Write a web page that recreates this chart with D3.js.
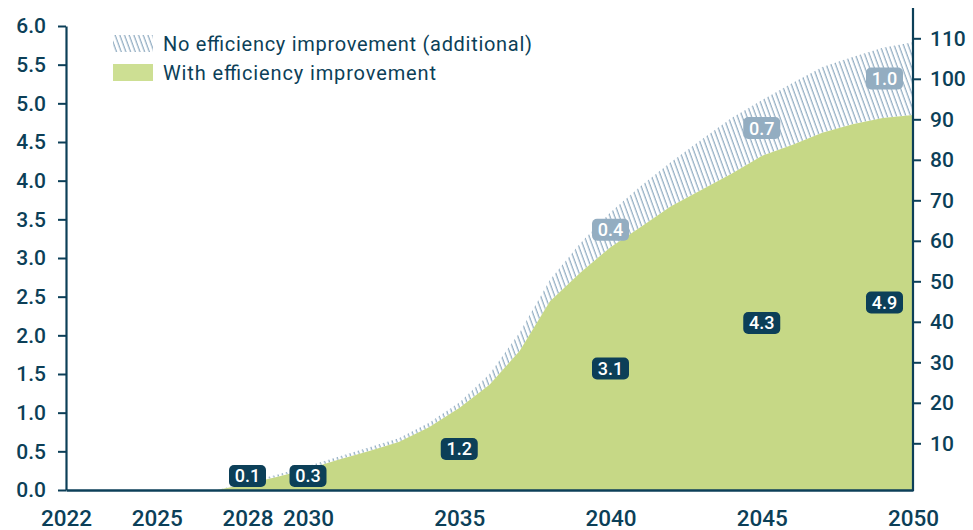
<!DOCTYPE html>
<html>
<head>
<meta charset="utf-8">
<script src="https://cdn.jsdelivr.net/npm/d3@7/dist/d3.min.js"></script>
<style>
  html, body { margin: 0; padding: 0; background: #ffffff; }
  svg { display: block; font-family: Roboto, "Noto Sans", sans-serif; }
</style>
</head>
<body>
<svg id="chart" width="973" height="530"></svg>
<script>
// ---------- data ----------
const years = [2022, 2023, 2024, 2025, 2026, 2027, 2028, 2029, 2030, 2031, 2032, 2033, 2034, 2035,
               2036, 2037, 2038, 2039, 2040, 2041, 2042, 2043, 2044, 2045, 2046, 2047, 2048, 2049, 2050];
const withEfficiency = [0, 0, 0, 0, 0, 0, 0.08, 0.17, 0.27, 0.39, 0.50, 0.62, 0.81, 1.06,
                        1.36, 1.80, 2.44, 2.81, 3.14, 3.40, 3.67, 3.88, 4.09, 4.32, 4.46, 4.62, 4.73, 4.81, 4.85];
const additional = [0, 0, 0, 0, 0, 0, 0.02, 0.03, 0.04, 0.04, 0.05, 0.05, 0.06, 0.07,
                    0.14, 0.24, 0.28, 0.38, 0.45, 0.53, 0.57, 0.65, 0.72, 0.72, 0.80, 0.85, 0.87, 0.91, 0.94];
const xTickYears = [2022, 2025, 2028, 2030, 2035, 2040, 2045, 2050];
const leftTicks = [0, 0.5, 1, 1.5, 2, 2.5, 3, 3.5, 4, 4.5, 5, 5.5, 6];
const rightTicks = [10, 20, 30, 40, 50, 60, 70, 80, 90, 100, 110];
const withLabelYears = [2028, 2030, 2035, 2040, 2045, 2050];
const withLabelTexts = ["0.1", "0.3", "1.2", "3.1", "4.3", "4.9"];
const addLabelYears = [2040, 2045, 2050];
const addLabelTexts = ["0.4", "0.7", "1.0"];
const legendItems = ["No efficiency improvement (additional)", "With efficiency improvement"];

// ---------- setup ----------
const navy = "#0c3f58";
const green = "#c6d886";
const hatchCol = "#8eaac0";
const lightBox = "#93adc1";

const svg = d3.select("#chart");
const X0 = 66, X1 = 913, Y0 = 490, Y1 = 26;

const x = d3.scaleLinear().domain([2022, 2050]).range([X0, X1]);
const y = d3.scaleLinear().domain([0, 6]).range([Y0, Y1]);
// right axis: 10 -> 443.3, 110 -> 38.3
const yr = d3.scaleLinear().domain([10, 110]).range([443.3, 38.3]);

const rows = years.map((yr_, i) => ({ year: yr_, w: withEfficiency[i], a: additional[i], t: withEfficiency[i] + additional[i] }));

// hatch pattern
const defs = svg.append("defs");
const pat = defs.append("pattern")
  .attr("id", "hatch")
  .attr("patternUnits", "userSpaceOnUse")
  .attr("width", 4.4).attr("height", 10)
  .attr("patternTransform", "rotate(-20)");
pat.append("line")
  .attr("x1", 2).attr("y1", -1).attr("x2", 2).attr("y2", 11)
  .attr("stroke", hatchCol).attr("stroke-width", 1.2);

// areas
const areaTotal = d3.area()
  .x(d => x(d.year)).y0(d => y(d.w)).y1(d => y(d.t));
const areaWith = d3.area()
  .x(d => x(d.year)).y0(y(0)).y1(d => y(d.w));

svg.append("path").datum(rows).attr("d", areaTotal).attr("fill", "url(#hatch)");
svg.append("path").datum(rows).attr("d", areaWith).attr("fill", green);

// ---------- axes ----------
const leftAxis = svg.append("g")
  .attr("transform", `translate(${X0},0)`)
  .call(d3.axisLeft(y).tickValues(leftTicks).tickFormat(d3.format(".1f")).tickSize(8).tickSizeOuter(0).tickPadding(12));
const rightAxis = svg.append("g")
  .attr("transform", `translate(${X1},0)`)
  .call(d3.axisRight(yr).tickValues(rightTicks).tickSize(8).tickSizeOuter(0).tickPadding(9));
rightAxis.select(".domain").attr("d", `M0,8V${Y0 + 1}`);
const bottomAxis = svg.append("g")
  .attr("transform", `translate(0,${Y0})`)
  .call(d3.axisBottom(x).tickValues(xTickYears).tickFormat(d3.format("d")).tickSize(0).tickSizeOuter(0).tickPadding(0));

[leftAxis, rightAxis, bottomAxis].forEach(g => {
  g.select(".domain").attr("stroke", navy).attr("stroke-width", 2.2);
  g.selectAll(".tick line").attr("stroke", navy).attr("stroke-width", 2);
  g.selectAll(".tick text").attr("fill", navy).attr("font-family", "Roboto, sans-serif").attr("font-weight", 500);
});
leftAxis.selectAll(".tick text").attr("font-size", 21);
rightAxis.selectAll(".tick text").attr("font-size", 21);
bottomAxis.selectAll(".tick text").attr("font-size", 22.5).attr("y", 36).attr("dy", null);
bottomAxis.select(".domain").attr("stroke-width", 2.6);

// ---------- value labels ----------
const BW = 37, BH = 22;
function labelX(year) { return Math.min(x(year), X1 - BW / 2 - 10); }
function valueAt(year) { return rows.find(r => r.year === year); }

function drawLabel(cx, cy, text, fill) {
  const g = svg.append("g").attr("transform", `translate(${cx},${cy})`);
  g.append("rect").attr("x", -BW / 2).attr("y", -BH / 2).attr("width", BW).attr("height", BH)
    .attr("rx", 5).attr("fill", fill);
  g.append("text").attr("text-anchor", "middle").attr("dy", "0.36em")
    .attr("fill", "#ffffff").attr("font-size", 18).attr("font-weight", 500)
    .attr("font-family", "Roboto, sans-serif").text(text);
}

withLabelYears.forEach((yy, i) => {
  const r = valueAt(yy);
  const cy = Math.min(y(r.w / 2), Y0 - 14);
  drawLabel(labelX(yy), cy, withLabelTexts[i], navy);
});
addLabelYears.forEach((yy, i) => {
  const r = valueAt(yy);
  const cy = y(r.w + r.a / 2);
  drawLabel(labelX(yy), cy, addLabelTexts[i], lightBox);
});

// ---------- legend ----------
const legendWidths = [369, 273];
const lg = svg.append("g").attr("transform", "translate(113,35)");
lg.append("rect").attr("x", 0).attr("y", 0).attr("width", 40).attr("height", 17).attr("fill", "url(#hatch)");
lg.append("rect").attr("x", 0).attr("y", 29).attr("width", 40).attr("height", 17).attr("fill", "#cddf93");
lg.selectAll("text.leg").data(legendItems).join("text")
  .attr("class", "leg")
  .attr("x", 50).attr("y", (d, i) => 9 + i * 29).attr("dy", "0.36em")
  .attr("fill", navy).attr("font-size", 20).attr("font-family", "Roboto, sans-serif")
  .attr("textLength", (d, i) => legendWidths[i]).attr("lengthAdjust", "spacing")
  .text(d => d);
</script>
</body>
</html>
